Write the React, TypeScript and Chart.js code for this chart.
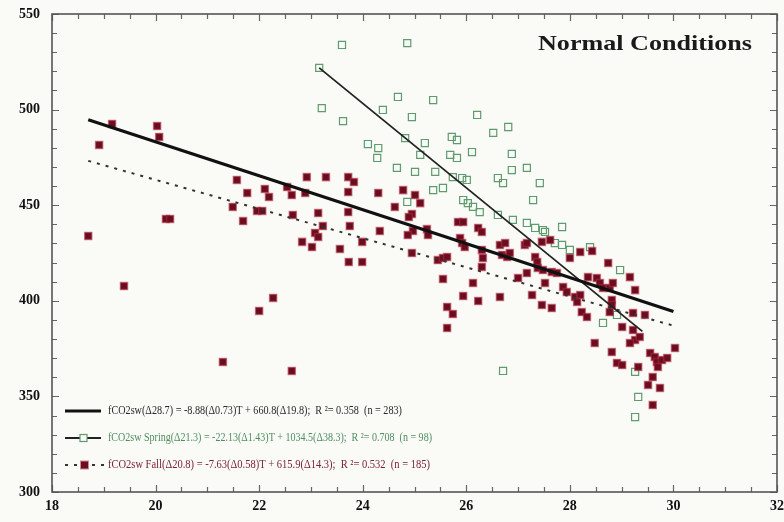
import React, { useEffect, useRef } from "react";
import { Chart, registerables } from "chart.js";

Chart.register(...registerables);

// ---- Data ----
const fallT: number[] = [
  18.70, 18.91, 19.16, 19.39, 20.03, 20.07, 20.20, 20.28, 21.30, 21.57,
  21.49, 21.77, 21.69, 21.96, 22.06, 22.11, 22.19, 22.27, 22.00, 22.63,
  22.54, 22.63, 22.89, 22.92, 23.29, 23.72, 23.83, 23.72, 24.30, 24.78,
  25.01, 25.11, 24.62, 23.14, 23.72, 22.65, 24.95, 23.23, 23.75, 24.89,
  23.08, 23.14, 22.83, 23.02, 23.56, 23.99, 24.33, 24.97, 24.87, 23.73,
  23.99,
  25.84, 25.94, 25.24, 25.26, 26.23, 26.30, 25.88, 25.92, 25.97, 24.95,
  25.45, 25.55, 25.63, 25.55, 26.13, 26.30, 26.32, 26.30, 26.65, 26.75,
  26.69, 26.79, 26.84, 27.13, 27.33, 27.37, 27.38, 27.48, 27.17, 27.00,
  27.52, 27.27, 25.94, 26.23, 26.65, 25.63, 25.74, 25.63,
  27.17, 27.46, 27.62, 28.20, 28.43, 28.00, 27.65, 27.75, 28.74, 27.87,
  27.94, 28.10, 28.20, 28.35, 28.52, 28.58, 28.64, 28.77, 28.83, 29.16,
  29.26, 27.46, 27.65, 28.14, 28.23, 28.33, 28.81, 28.81, 28.77, 29.22,
  29.45, 29.01, 29.22, 29.26, 29.35, 29.16, 28.48, 28.81, 28.91, 29.01,
  29.32, 29.55, 29.64, 29.68, 29.78, 29.70, 29.88, 30.03, 29.60, 29.51,
  29.74, 29.60,
];
const fallCO2: number[] = [
  433.9, 481.5, 492.5, 407.7, 491.4, 485.7, 442.8, 442.8, 368.0, 463.2,
  449.1, 456.4, 441.7, 447.0, 447.0, 458.5, 454.3, 401.5, 394.7, 363.3,
  459.5, 455.3, 456.4, 464.7, 464.7, 464.7, 462.1, 456.9, 456.4, 457.9,
  455.3, 451.1, 449.1, 445.9, 446.4, 444.9, 445.4, 439.1, 439.1, 443.8,
  435.5, 433.4, 430.8, 428.1, 427.1, 430.8, 436.5, 436.5, 434.4, 420.3,
  420.3,
  441.2, 441.2, 437.5, 434.4, 438.1, 436.0, 432.8, 430.2, 428.1, 425.0,
  421.3, 422.4, 422.9, 411.4, 409.3, 426.6, 422.4, 417.7, 429.2, 430.2,
  424.0, 422.9, 425.0, 429.2, 422.9, 420.3, 417.2, 416.1, 414.5, 411.9,
  409.3, 403.0, 402.5, 399.9, 402.0, 396.8, 393.1, 385.8,
  430.2, 430.8, 431.8, 425.5, 426.0, 422.4, 415.1, 414.5, 419.8, 407.2,
  404.6, 402.0, 403.0, 412.4, 411.9, 409.3, 406.7, 406.7, 409.3, 412.4,
  405.6, 397.8, 396.2, 399.4, 394.1, 391.5, 400.4, 397.8, 394.1, 393.6,
  392.6, 386.3, 384.7, 379.5, 381.1, 377.9, 377.9, 373.2, 367.5, 366.4,
  365.4, 372.7, 370.6, 368.0, 369.0, 365.4, 370.1, 375.3, 360.1, 356.0,
  354.4, 345.5,
];

const springT: number[] = [
  23.60, 24.86, 23.16, 23.21, 23.62, 24.68, 25.36, 24.39, 24.95, 26.21,
  26.52, 26.81, 24.10, 24.30, 24.28, 24.82, 25.20, 25.11, 25.72, 25.82,
  25.69, 25.82, 26.11, 26.88, 27.17, 24.66, 25.01, 25.40, 25.74, 25.92,
  26.01, 26.61, 26.71, 26.88, 25.36, 25.55, 24.86, 25.94, 26.03, 26.13,
  26.26, 26.61, 26.90, 27.17, 27.42, 27.29, 27.33, 27.48, 27.52, 27.85,
  27.71, 27.85, 28.00, 28.39, 28.97, 28.64, 28.91, 29.26, 29.32, 29.26,
  26.71,
];
const springCO2: number[] = [
  533.8, 534.8, 521.8, 500.8, 494.0, 506.6, 505.0, 499.8, 496.1, 497.2,
  487.8, 490.9, 482.0, 479.9, 474.7, 485.1, 482.5, 476.3, 485.7, 484.1,
  476.3, 474.7, 477.8, 476.8, 469.5, 469.5, 467.4, 467.4, 464.7, 464.2,
  463.2, 464.2, 461.6, 468.4, 457.9, 459.0, 451.7, 452.7, 451.1, 449.1,
  446.4, 444.9, 442.3, 440.7, 461.6, 452.7, 438.1, 437.0, 436.0, 438.6,
  430.2, 429.2, 426.6, 428.1, 416.1, 388.4, 392.6, 362.8, 349.7, 339.2,
  363.3,
];

// Regression line end points
const allFitT: number[] = [18.7, 30.0];
const allFitCO2: number[] = [494.7, 394.4];
const springFitT: number[] = [23.16, 29.4];
const springFitCO2: number[] = [521.8, 384.0];
const fallFitT: number[] = [18.7, 30.0];
const fallFitCO2: number[] = [473.2, 387.0];

const xTickLabels: number[] = [18, 20, 22, 24, 26, 28, 30, 32];
const yTickLabels: number[] = [300, 350, 400, 450, 500, 550];

const titleText = "Normal Conditions";
const legendTexts: string[] = [
  "fCO2sw(\u039428.7) = -8.88(\u03940.73)T + 660.8(\u039419.8);  R \u00b2= 0.358  (n = 283)",
  "fCO2sw Spring(\u039421.3) = -22.13(\u03941.43)T + 1034.5(\u039438.3);  R \u00b2= 0.708  (n = 98)",
  "fCO2sw Fall(\u039420.8) = -7.63(\u03940.58)T + 615.9(\u039414.3);  R \u00b2= 0.532  (n = 185)",
];

const BG = "#fafaf7";
const FALL_FILL = "#6a0d1e";
const FALL_EDGE = "rgba(175,45,70,0.55)";
const SPRING_EDGE = "#5e9c70";
const SERIF = "'Liberation Serif', 'Times New Roman', serif";

const pts = (xs: number[], ys: number[]) => xs.map((x, i) => ({ x, y: ys[i] }));

const framePlugin = {
  id: "frameTicks",
  beforeDraw(chart: any) {
    const ctx = chart.ctx;
    ctx.save();
    ctx.fillStyle = BG;
    ctx.fillRect(0, 0, chart.width, chart.height);
    ctx.restore();
  },
  beforeDatasetsDraw(chart: any) {
    const { ctx, chartArea: a, scales } = chart;
    ctx.save();
    ctx.strokeStyle = "#666";
    ctx.lineWidth = 1.2;
    const xs = scales.x;
    const ys = scales.y;
    ctx.beginPath();
    for (const t of xs.ticks) {
      const px = Math.round(xs.getPixelForValue(t.value)) + 0.5;
      const len = xTickLabels.includes(t.value) ? 7 : 5;
      ctx.moveTo(px, a.bottom);
      ctx.lineTo(px, a.bottom - len);
      ctx.moveTo(px, a.top);
      ctx.lineTo(px, a.top + len);
    }
    for (const t of ys.ticks) {
      const py = Math.round(ys.getPixelForValue(t.value)) + 0.5;
      const len = yTickLabels.includes(t.value) ? 7 : 5;
      ctx.moveTo(a.left, py);
      ctx.lineTo(a.left + len, py);
      ctx.moveTo(a.right, py);
      ctx.lineTo(a.right - len, py);
    }
    ctx.stroke();
    ctx.lineWidth = 1.6;
    ctx.strokeStyle = "#555";
    ctx.strokeRect(a.left, a.top, a.right - a.left, a.bottom - a.top);
    ctx.restore();
  },
  afterDraw(chart: any) {
    const { ctx } = chart;
    ctx.save();
    // title, fitted to the reference's width
    ctx.font = `bold 22px ${SERIF}`;
    ctx.fillStyle = "#1a1a1a";
    ctx.textAlign = "left";
    ctx.textBaseline = "middle";
    const tw = ctx.measureText(titleText).width;
    ctx.save();
    ctx.translate(538, 44);
    ctx.scale(214 / tw, 1);
    ctx.fillText(titleText, 0, 0);
    ctx.restore();

    // legend
    const rows = [411, 438, 465];
    const textX = 108;
    const targetEnds = [402, 432, 430];
    const colors = ["#2a2a2a", "#4f8d60", "#7a2233"];
    ctx.strokeStyle = "#111";
    ctx.lineWidth = 3.2;
    ctx.beginPath();
    ctx.moveTo(65, rows[0]);
    ctx.lineTo(101, rows[0]);
    ctx.stroke();
    ctx.strokeStyle = "#222";
    ctx.lineWidth = 1.8;
    ctx.beginPath();
    ctx.moveTo(65, rows[1]);
    ctx.lineTo(101, rows[1]);
    ctx.stroke();
    ctx.fillStyle = BG;
    ctx.fillRect(80, rows[1] - 3.5, 7, 7);
    ctx.strokeStyle = SPRING_EDGE;
    ctx.lineWidth = 1.2;
    ctx.strokeRect(80, rows[1] - 3.5, 7, 7);
    ctx.strokeStyle = "#333";
    ctx.lineWidth = 2;
    ctx.setLineDash([3, 6]);
    ctx.beginPath();
    ctx.moveTo(65, rows[2]);
    ctx.lineTo(105, rows[2]);
    ctx.stroke();
    ctx.setLineDash([]);
    ctx.fillStyle = FALL_EDGE;
    ctx.fillRect(80, rows[2] - 4.5, 9, 9);
    ctx.fillStyle = FALL_FILL;
    ctx.fillRect(81, rows[2] - 3.5, 7, 7);

    ctx.font = `12px ${SERIF}`;
    legendTexts.forEach((txt, i) => {
      const w = ctx.measureText(txt).width;
      const sx = (targetEnds[i] - textX) / w;
      ctx.save();
      ctx.translate(textX, rows[i]);
      ctx.scale(sx, 1);
      ctx.fillStyle = colors[i];
      ctx.fillText(txt, 0, 0);
      ctx.restore();
    });
    ctx.restore();
  },
};

export default function App() {
  const ref = useRef<HTMLCanvasElement | null>(null);

  useEffect(() => {
    document.body.style.margin = "0";
    document.body.style.background = BG;
    const canvas = ref.current;
    if (!canvas) return;
    const chart = new Chart(canvas, {
      type: "scatter",
      data: {
        datasets: [
          {
            label: "All fit",
            data: pts(allFitT, allFitCO2),
            showLine: true,
            borderColor: "#111",
            borderWidth: 3.2,
            pointRadius: 0,
            order: 0,
          },
          {
            label: "Spring fit",
            data: pts(springFitT, springFitCO2),
            showLine: true,
            borderColor: "#222",
            borderWidth: 1.8,
            pointRadius: 0,
            order: 1,
          },
          {
            label: "Fall fit",
            data: pts(fallFitT, fallFitCO2),
            showLine: true,
            borderColor: "#333",
            borderWidth: 2,
            borderDash: [3, 6],
            pointRadius: 0,
            order: 2,
          },
          {
            label: "Fall",
            data: pts(fallT, fallCO2),
            pointStyle: "rect",
            pointRadius: 5,
            backgroundColor: FALL_FILL,
            borderColor: FALL_EDGE,
            borderWidth: 1.5,
            order: 3,
          },
          {
            label: "Spring",
            data: pts(springT, springCO2),
            pointStyle: "rect",
            pointRadius: 5,
            backgroundColor: "rgba(255,255,255,0)",
            borderColor: SPRING_EDGE,
            borderWidth: 1.2,
            order: 4,
          },
        ],
      },
      options: {
        animation: false,
        responsive: false,
        events: [],
        layout: { padding: { top: 14, right: 7, left: 0, bottom: 0 } },
        plugins: {
          legend: { display: false },
          tooltip: { enabled: false },
          title: { display: false },
        },
        scales: {
          x: {
            type: "linear",
            min: 18,
            max: 32,
            grid: { display: false, drawTicks: false },
            border: { display: false },
            ticks: {
              stepSize: 0.5,
              autoSkip: false,
              maxRotation: 0,
              padding: 6,
              color: "#111",
              font: { family: SERIF, size: 14, weight: "bold" },
              callback: (v: any) => (xTickLabels.includes(Number(v)) ? String(v) : ""),
            },
            afterFit: (s: any) => {
              s.height = 30;
              s.paddingLeft = 0;
              s.paddingRight = 0;
            },
          },
          y: {
            type: "linear",
            min: 300,
            max: 550,
            grid: { display: false, drawTicks: false },
            border: { display: false },
            ticks: {
              stepSize: 10,
              autoSkip: false,
              padding: 12,
              color: "#111",
              font: { family: SERIF, size: 14, weight: "bold" },
              callback: (v: any) => (yTickLabels.includes(Number(v)) ? String(v) : ""),
            },
            afterFit: (s: any) => {
              s.width = 52;
              s.paddingTop = 0;
              s.paddingBottom = 0;
            },
          },
        },
      },
      plugins: [framePlugin],
    } as any);
    return () => chart.destroy();
  }, []);

  return (
    <div style={{ width: 784, height: 522, position: "relative" }}>
      <canvas ref={ref} width={784} height={522} style={{ width: 784, height: 522, display: "block" }} />
    </div>
  );
}
